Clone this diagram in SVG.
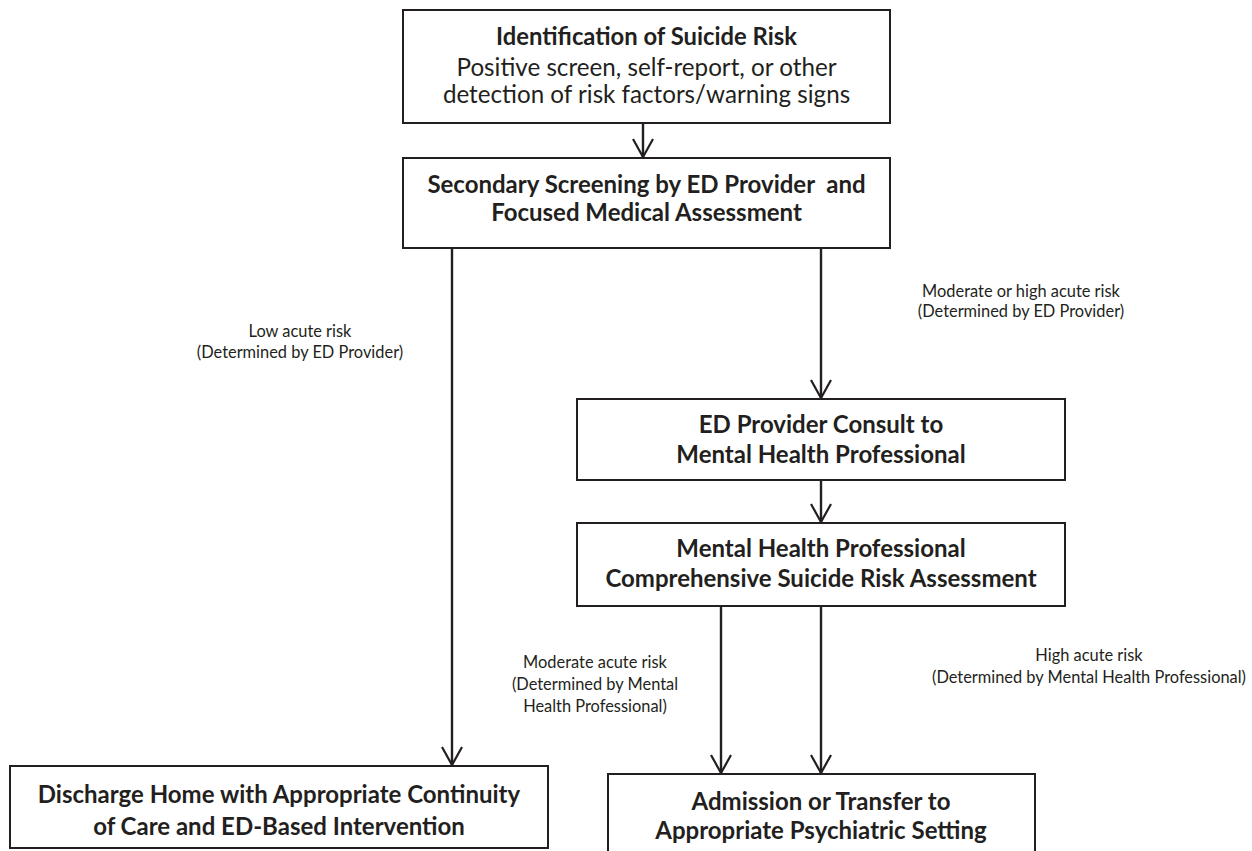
<svg xmlns="http://www.w3.org/2000/svg" width="1252" height="851" viewBox="0 0 1252 851">
<style>
.box{fill:#fff;stroke:#231f20;stroke-width:2}
.t{font-family:Lato,"Open Sans","Liberation Sans",sans-serif;fill:#231f20;text-anchor:middle;white-space:pre}
.h1{font-size:23.8px;font-weight:bold}
.p1{font-size:24.2px}
.h2{font-size:24px;font-weight:bold}
.lb{font-size:16.4px}
.con{stroke:#231f20;stroke-width:2.4;fill:none;marker-end:url(#arr)}
</style>
<defs>
<marker id="arr" markerUnits="userSpaceOnUse" markerWidth="24" markerHeight="24" refX="0" refY="0" orient="auto" overflow="visible" viewBox="-20 -12 24 24">
<path d="M-18,-10 L0,0 L-18,10" fill="none" stroke="#231f20" stroke-width="2.2"/>
</marker>
</defs>
<rect width="1252" height="851" fill="#fff"/>
<g id="connectors">
<line class="con" x1="643" y1="123" x2="643" y2="157"/>
<line class="con" x1="452" y1="248" x2="452" y2="765"/>
<line class="con" x1="821" y1="248" x2="821" y2="398"/>
<line class="con" x1="821" y1="480" x2="821" y2="522"/>
<line class="con" x1="721" y1="606" x2="721" y2="773"/>
<line class="con" x1="821" y1="606" x2="821" y2="773"/>
</g>
<g id="labels">
<text class="t lb" x="300" y="337">Low acute risk</text>
<text class="t lb" x="300" y="358">(Determined by ED Provider)</text>
<text class="t lb" x="1021" y="297">Moderate or high acute risk</text>
<text class="t lb" x="1021" y="317">(Determined by ED Provider)</text>
<text class="t lb" x="595" y="668">Moderate acute risk</text>
<text class="t lb" x="595" y="690">(Determined by Mental</text>
<text class="t lb" x="595" y="712">Health Professional)</text>
<text class="t lb" x="1089" y="661">High acute risk</text>
<text class="t lb" x="1089" y="683">(Determined by Mental Health Professional)</text>
</g>
<g id="n1">
<rect class="box" x="403" y="10" width="487" height="113"/>
<text class="t h1" x="646.5" y="45">Identification of Suicide Risk</text>
<text class="t p1" x="646.5" y="76">Positive screen, self-report, or other</text>
<text class="t p1" x="646.5" y="103">detection of risk factors/warning signs</text>
</g>
<g id="n2">
<rect class="box" x="403" y="158" width="487" height="90"/>
<text class="t h2" x="646.5" y="193" xml:space="preserve">Secondary Screening by ED Provider  and</text>
<text class="t h2" x="646.5" y="221">Focused Medical Assessment</text>
</g>
<g id="n3">
<rect class="box" x="577" y="399" width="488" height="81"/>
<text class="t h2" x="821" y="433">ED Provider Consult to</text>
<text class="t h2" x="821" y="463">Mental Health Professional</text>
</g>
<g id="n4">
<rect class="box" x="577" y="523" width="488" height="83"/>
<text class="t h2" x="821" y="557">Mental Health Professional</text>
<text class="t h2" x="821" y="587">Comprehensive Suicide Risk Assessment</text>
</g>
<g id="n5">
<rect class="box" x="10" y="766" width="538" height="82"/>
<text class="t h2" x="279" y="803">Discharge Home with Appropriate Continuity</text>
<text class="t h2" x="279" y="835">of Care and ED-Based Intervention</text>
</g>
<g id="n6">
<rect class="box" x="608" y="774" width="427" height="90"/>
<text class="t h2" x="821" y="810">Admission or Transfer to</text>
<text class="t h2" x="821" y="839">Appropriate Psychiatric Setting</text>
</g>
</svg>
